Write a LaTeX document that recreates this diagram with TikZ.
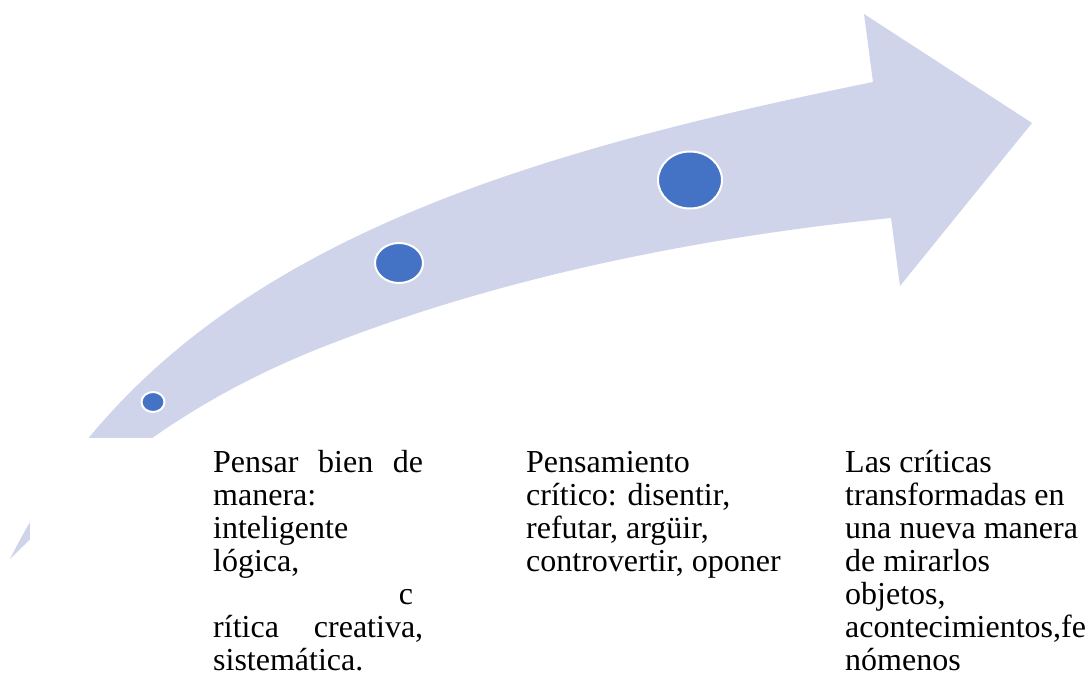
\documentclass[tikz,border=0pt]{standalone}
\usepackage{fontspec}
\setmainfont{Liberation Serif}
\usetikzlibrary{shapes.geometric}
\definecolor{arrowfill}{HTML}{CFD4EA}
\definecolor{dotblue}{HTML}{4472C4}
\begin{document}
\begin{tikzpicture}[x=1pt,y=-1pt,
  dot/.style={ellipse, fill=dotblue, draw=white, line width=2pt, inner sep=0pt},
  txt/.style={anchor=base west, inner sep=0pt, font=\fontsize{32}{33}\selectfont}]
\useasboundingbox (0,0) rectangle (1088,695);
% curved arrow
\coordinate (tail) at (10,559);
\coordinate (un) at (873,82);
\coordinate (ub) at (864,14);
\coordinate (tip) at (1032,123);
\coordinate (lb) at (900,286);
\coordinate (ln) at (891,218);
\coordinate (lm) at (333,343);
\fill[arrowfill] (tail) .. controls (160,260) and (490,160) .. (un)
  -- (ub) -- (tip) -- (lb) -- (ln)
  .. controls (711,236) and (513,273.5) .. (lm)
  .. controls (213,389) and (120,450) .. (tail) -- cycle;
% white text area
\fill[white] (30,438) rectangle (1088,695);
% dots
\node[dot, minimum width=23pt, minimum height=20pt] (d1) at (153,402) {};
\node[dot, minimum width=48pt, minimum height=40pt] (d2) at (399,263) {};
\node[dot, minimum width=64pt, minimum height=57pt] (d3) at (690,180) {};
% texts
\node[txt] (t1) at (213,472) {\parbox[t]{210pt}{%
Pensar\hfill bien\hfill de\\
manera:\\
inteligente\\
lógica,\\
\hspace*{\fill}c\hspace*{10pt}\\
rítica\hfill creativa,\\
sistemática.}};
\node[txt] (t2) at (526,472) {\parbox[t]{280pt}{%
Pensamiento\\
crítico: disentir,\\
refutar, argüir,\\
controvertir, oponer}};
\node[txt] (t3) at (845,472) {\parbox[t]{280pt}{%
Las críticas\\
transformadas en\\
una nueva manera\\
de mirarlos\\
objetos,\\
acontecimientos,fe\\
nómenos}};
\end{tikzpicture}
\end{document}
